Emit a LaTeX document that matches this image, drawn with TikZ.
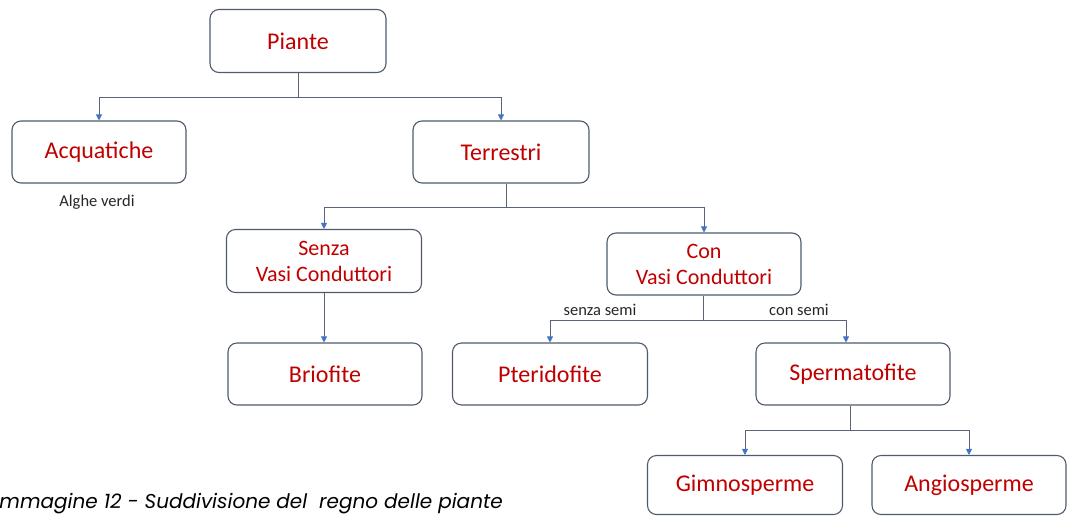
\documentclass[tikz,border=0pt]{standalone}
\usepackage{fontspec}
\setmainfont{Carlito}
\newfontfamily\captionfont{Poppins}
\usetikzlibrary{arrows.meta}

\definecolor{boxred}{RGB}{192,0,0}
\definecolor{boxline}{RGB}{80,90,110}
\definecolor{connline}{RGB}{90,100,120}
\definecolor{tipblue}{RGB}{68,114,196}

\begin{document}
\begin{tikzpicture}[
    x=1pt, y=-1pt,
    box/.style={rectangle, draw=boxline, line width=1.1pt, rounded corners=9pt, minimum width=194pt, minimum height=62pt, align=center, text=boxred, font=\fontsize{24}{28}\selectfont},
    twoline/.style={box, font=\fontsize{22}{26}\selectfont},
    conn/.style={draw=connline, line width=0.8pt},
    arrow/.style={conn, -{Triangle[length=6pt, width=6pt, color=tipblue]}},
    note/.style={font=\fontsize{16.5}{19}\selectfont, text=black!85}
]
    \useasboundingbox (0,0) rectangle (1067,517);
    \clip (0,0) rectangle (1067,517);

    \node[box, minimum width=176pt, minimum height=63pt] (piante) at (298,41) {Piante};
    \node[box, minimum width=174pt] (acq) at (99,152) {Acquatiche};
    \node[box, minimum width=176pt] (terr) at (501,152) {Terrestri};
    \node[twoline, minimum width=195pt, minimum height=63pt] (senza) at (324,261) {Senza\\Vasi Conduttori};
    \node[twoline] (con) at (704,264) {Con\\Vasi Conduttori};
    \node[box] (brio) at (325,374) {Briofite};
    \node[box, minimum width=195pt] (pteri) at (550,374) {Pteridofite};
    \node[box] (sperm) at (853,374) {Spermatofite};
    \node[box, minimum width=195pt, minimum height=59pt] (gimno) at (745,485) {Gimnosperme};
    \node[box, minimum height=59pt] (angio) at (969,485) {Angiosperme};

    \node[note] (alghe) at (97,202) {Alghe verdi};

    \coordinate (j1) at (298,97);
    \coordinate (j2) at (506,207);
    \coordinate (j3) at (703,320);
    \coordinate (j4) at (850,430);

    \draw[conn] (piante.south) -- (j1);
    \draw[arrow] (j1) -| (acq.north);
    \draw[arrow] (j1) -| (terr.north);

    \draw[conn] (j2 |- terr.south) -- (j2);
    \draw[arrow] (j2) -| (senza.north);
    \draw[arrow] (j2) -| (con.north);

    \draw[arrow] (senza.south) -- (senza.south |- brio.north);

    \draw[conn] (j3 |- con.south) -- (j3);
    \draw[arrow] (j3) -| (pteri.north);
    \draw[arrow] (j3) -| ([xshift=-7pt]sperm.north);
    \node[note, anchor=south] (ssemi) at (600,319) {senza semi};
    \node[note, anchor=south] (csemi) at (799,319) {con semi};

    \draw[conn] (j4 |- sperm.south) -- (j4);
    \draw[arrow] (j4) -| (gimno.north);
    \draw[arrow] (j4) -| (angio.north);

    \node[anchor=base west, font=\captionfont\itshape\fontsize{20}{24}\selectfont] (caption) at (-9,508) {Immagine 12 - Suddivisione del~ regno delle piante};
\end{tikzpicture}
\end{document}
